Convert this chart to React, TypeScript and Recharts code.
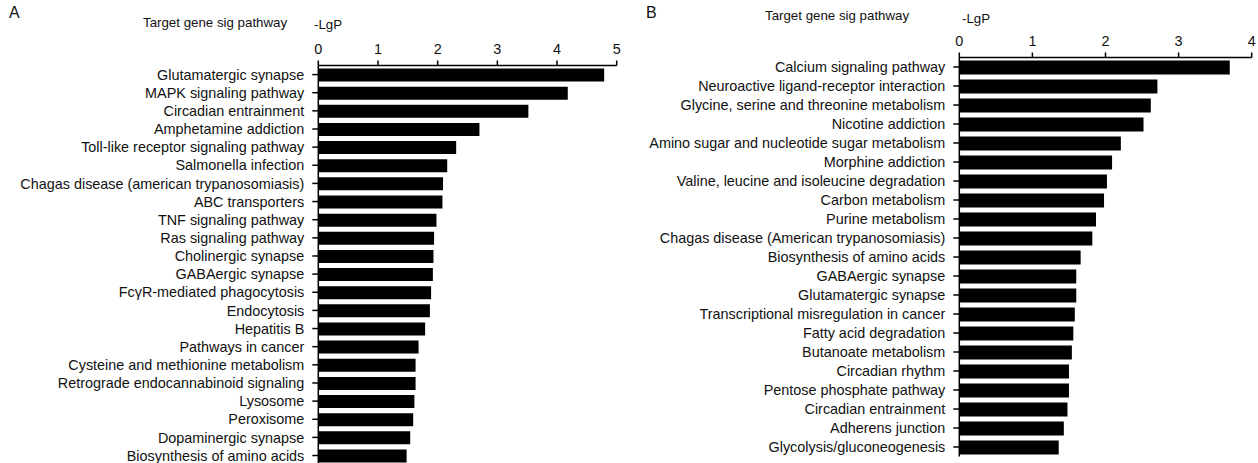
import React from "react";
import { BarChart, Bar, XAxis, YAxis } from "recharts";

const pathwaysA = [
  "Glutamatergic synapse",
  "MAPK signaling pathway",
  "Circadian entrainment",
  "Amphetamine addiction",
  "Toll-like receptor signaling pathway",
  "Salmonella infection",
  "Chagas disease (american trypanosomiasis)",
  "ABC transporters",
  "TNF signaling pathway",
  "Ras signaling pathway",
  "Cholinergic synapse",
  "GABAergic synapse",
  "FcγR-mediated phagocytosis",
  "Endocytosis",
  "Hepatitis B",
  "Pathways in cancer",
  "Cysteine and methionine metabolism",
  "Retrograde endocannabinoid signaling",
  "Lysosome",
  "Peroxisome",
  "Dopaminergic synapse",
  "Biosynthesis of amino acids",
];
const lgpA = [4.79, 4.18, 3.52, 2.7, 2.31, 2.16, 2.09, 2.08, 1.98, 1.94, 1.93, 1.92, 1.89, 1.87, 1.79, 1.68, 1.63, 1.63, 1.61, 1.59, 1.54, 1.48];
const ticksA = [0, 1, 2, 3, 4, 5];

const pathwaysB = [
  "Calcium signaling pathway",
  "Neuroactive ligand-receptor interaction",
  "Glycine, serine and threonine metabolism",
  "Nicotine addiction",
  "Amino sugar and nucleotide sugar metabolism",
  "Morphine addiction",
  "Valine, leucine and isoleucine degradation",
  "Carbon metabolism",
  "Purine metabolism",
  "Chagas disease (American trypanosomiasis)",
  "Biosynthesis of amino acids",
  "GABAergic synapse",
  "Glutamatergic synapse",
  "Transcriptional misregulation in cancer",
  "Fatty acid degradation",
  "Butanoate metabolism",
  "Circadian rhythm",
  "Pentose phosphate pathway",
  "Circadian entrainment",
  "Adherens junction",
  "Glycolysis/gluconeogenesis",
];
const lgpB = [3.7, 2.71, 2.62, 2.52, 2.21, 2.09, 2.02, 1.98, 1.87, 1.82, 1.66, 1.6, 1.6, 1.58, 1.56, 1.54, 1.5, 1.5, 1.48, 1.43, 1.36];
const ticksB = [0, 1, 2, 3, 4];

const dataA = pathwaysA.map((name, i) => ({ name, value: lgpA[i] }));
const dataB = pathwaysB.map((name, i) => ({ name, value: lgpB[i] }));

const FONT = "'Liberation Sans', Arial, Helvetica, sans-serif";
const tickStyle = { fill: "#111", fontSize: 14.4, fontFamily: FONT };
const axisLine = { stroke: "#000", strokeWidth: 1.5 };
const X_AXIS_H = 30;

function Label({ x, y, size, children }: { x: number; y: number; size: number; children: React.ReactNode }) {
  return (
    <div
      style={{
        position: "absolute",
        left: x,
        top: y,
        transform: "translateY(-50%)",
        fontFamily: FONT,
        fontSize: size,
        lineHeight: 1,
        whiteSpace: "nowrap",
        color: "#111",
      }}
    >
      {children}
    </div>
  );
}

export default function App() {
  return (
    <div
      style={{
        position: "absolute",
        left: 0,
        top: 0,
        width: 1258,
        height: 463,
        overflow: "hidden",
        background: "#fff",
      }}
    >
      <Label x={9} y={13} size={16}>A</Label>
      <Label x={143} y={23} size={13.3}>Target gene sig pathway</Label>
      <Label x={314} y={25} size={13.3}>-LgP</Label>
      <Label x={646} y={13} size={16}>B</Label>
      <Label x={765} y={16} size={13.3}>Target gene sig pathway</Label>
      <Label x={962} y={19} size={13.3}>-LgP</Label>

      <div style={{ position: "absolute", left: 0, top: 0 }}>
        <BarChart
          width={640}
          height={470}
          data={dataA}
          layout="vertical"
          margin={{ top: 65.5 - X_AXIS_H, right: 23.3, bottom: 5.4, left: 0 }}
        >
          <XAxis
            type="number"
            orientation="top"
            domain={[0, 5]}
            ticks={ticksA}
            tick={tickStyle}
            axisLine={axisLine}
            tickLine={axisLine}
            tickSize={5}
            tickMargin={7}
            height={X_AXIS_H}
            interval={0}
          />
          <YAxis
            type="category"
            dataKey="name"
            width={318.3}
            tick={tickStyle}
            axisLine={axisLine}
            tickLine={axisLine}
            tickSize={6}
            tickMargin={8}
            interval={0}
          />
          <Bar dataKey="value" fill="#000" barSize={13} isAnimationActive={false} />
        </BarChart>
      </div>

      <div style={{ position: "absolute", left: 640, top: 0 }}>
        <BarChart
          width={618}
          height={463}
          data={dataB}
          layout="vertical"
          margin={{ top: 57.5 - X_AXIS_H, right: 6.3, bottom: 6.5, left: 0 }}
        >
          <XAxis
            type="number"
            orientation="top"
            domain={[0, 4]}
            ticks={ticksB}
            tick={tickStyle}
            axisLine={axisLine}
            tickLine={axisLine}
            tickSize={5}
            tickMargin={7}
            height={X_AXIS_H}
            interval={0}
          />
          <YAxis
            type="category"
            dataKey="name"
            width={319.3}
            tick={tickStyle}
            axisLine={axisLine}
            tickLine={axisLine}
            tickSize={6}
            tickMargin={8}
            interval={0}
          />
          <Bar dataKey="value" fill="#000" barSize={14} isAnimationActive={false} />
        </BarChart>
      </div>
    </div>
  );
}
